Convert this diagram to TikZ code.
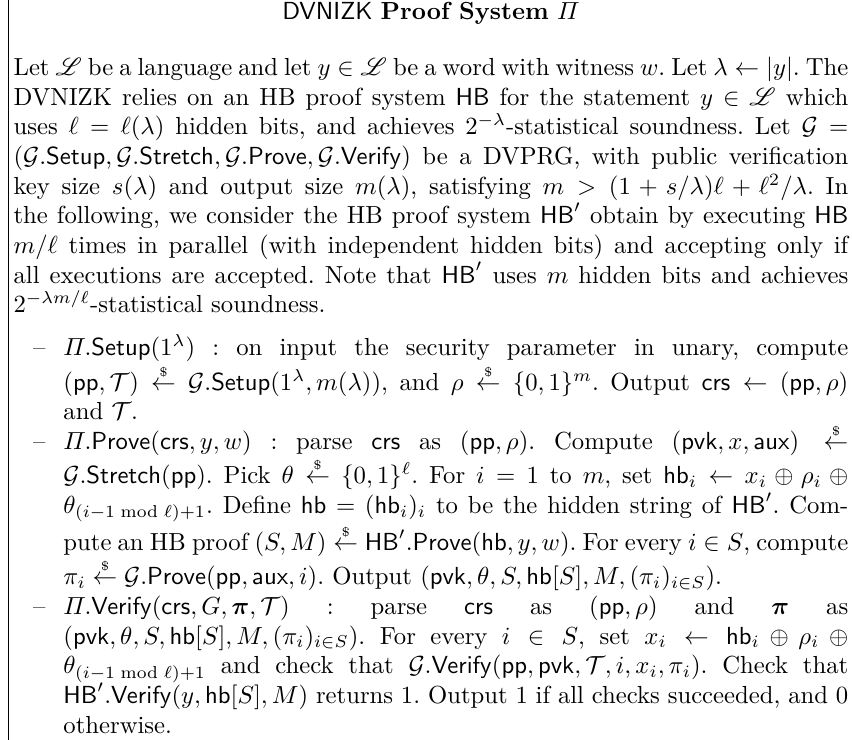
\documentclass[tikz,border=0pt]{standalone}
\usepackage{amsmath}
\usepackage{amssymb}
\usepackage{mathrsfs}
\usepackage{enumitem}
\usepackage{tikz}
\usetikzlibrary{positioning}

\newcommand{\rgets}{\mathrel{\overset{\scriptscriptstyle\$}{\leftarrow}}}
\newcommand{\Lang}{\mathscr{L}}

\begin{document}
\begin{tikzpicture}
\useasboundingbox (0,0) rectangle (345pt,299.6pt);
\node[anchor=base west, inner sep=0] (body) at (5.3pt,269pt) {%
	\begin{minipage}[t]{338pt}
		\frenchspacing
		Let $\Lang$ be a language and let $y\in\Lang$ be a word with witness $w$. Let $\lambda\leftarrow|y|$. The DVNIZK relies on an HB proof system $\mathsf{HB}$ for the statement $y\in\Lang$ which uses $\ell=\ell(\lambda)$ hidden bits, and achieves $2^{-\lambda}$-statistical soundness. Let $\mathcal{G}=(\mathcal{G}.\mathsf{Setup},\mathcal{G}.\mathsf{Stretch},\mathcal{G}.\mathsf{Prove},\mathcal{G}.\mathsf{Verify})$ be a DVPRG, with public verification key size $s(\lambda)$ and output size $m(\lambda)$, satisfying $m>(1+s/\lambda)\ell+\ell^2/\lambda$. In the following, we consider the HB proof system $\mathsf{HB}'$ obtain by executing $\mathsf{HB}$ $m/\ell$ times in parallel (with independent hidden bits) and accepting only if all executions are accepted. Note that $\mathsf{HB}'$ uses $m$ hidden bits and achieves $2^{-\lambda m/\ell}$-statistical soundness.
		\begin{itemize}[label=--, leftmargin=20.2pt, labelsep=7.3pt, topsep=5.5pt, partopsep=0pt, itemsep=0pt, parsep=0pt]
			\item $\varPi.\mathsf{Setup}(1^\lambda)$ : on input the security parameter in unary, compute\linebreak $(\mathsf{pp},\mathcal{T})\rgets\mathcal{G}.\mathsf{Setup}(1^\lambda,m(\lambda))$, and $\rho\rgets\{0,1\}^m$. Output $\mathsf{crs}\leftarrow(\mathsf{pp},\rho)$ and $\mathcal{T}$.
			\item $\varPi.\mathsf{Prove}(\mathsf{crs},y,w)$ : parse $\mathsf{crs}$ as $(\mathsf{pp},\rho)$. Compute $(\mathsf{pvk},x,\mathsf{aux})\rgets\mathcal{G}.\mathsf{Stretch}(\mathsf{pp})$. Pick $\theta\rgets\{0,1\}^\ell$. For $i=1$ to $m$, set $\mathsf{hb}_i\leftarrow x_i\oplus\rho_i\oplus\theta_{(i-1\bmod\ell)+1}$. Define $\mathsf{hb}=(\mathsf{hb}_i)_i$ to be the hidden string of $\mathsf{HB}'$. Compute an HB proof $(S,M)\rgets\mathsf{HB}'.\mathsf{Prove}(\mathsf{hb},y,w)$. For every $i\in S$, compute $\pi_i\rgets\mathcal{G}.\mathsf{Prove}(\mathsf{pp},\mathsf{aux},i)$. Output $(\mathsf{pvk},\theta,S,\mathsf{hb}[S],M,(\pi_i)_{i\in S})$.
			\item $\varPi.\mathsf{Verify}(\mathsf{crs},G,\boldsymbol{\pi},\mathcal{T})$ : parse $\mathsf{crs}$ as $(\mathsf{pp},\rho)$ and $\boldsymbol{\pi}$ as $(\mathsf{pvk},\theta,S,\mathsf{hb}[S],M,(\pi_i)_{i\in S})$. For every $i\in S$, set $x_i\leftarrow\mathsf{hb}_i\oplus\rho_i\oplus\theta_{(i-1\bmod\ell)+1}$ and check that $\mathcal{G}.\mathsf{Verify}(\mathsf{pp},\mathsf{pvk},\mathcal{T},i,x_i,\pi_i)$. Check that $\mathsf{HB}'.\mathsf{Verify}(y,\mathsf{hb}[S],M)$ returns 1. Output 1 if all checks succeeded, and 0 otherwise.
		\end{itemize}
	\end{minipage}};
\node[above=12.7pt of body, inner sep=0] (title) {\textsf{DVNIZK} \textbf{Proof System} $\varPi$};
% left edge of the frame
\coordinate (ruletop) at (3.4pt,299.6pt);
\coordinate (rulebot) at (3.4pt,0pt);
\draw[line width=0.4pt] (ruletop) -- (rulebot);
\end{tikzpicture}
\end{document}
